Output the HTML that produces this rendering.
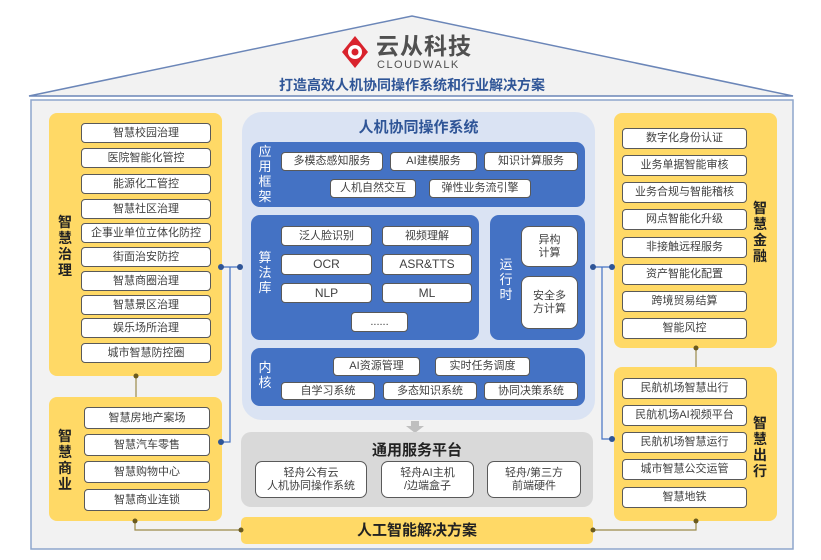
<!DOCTYPE html>
<html><head><meta charset="utf-8"><style>
*{margin:0;padding:0;box-sizing:border-box}
body{width:821px;height:560px;background:#fff;position:relative;overflow:hidden;font-family:"Liberation Sans","Noto Sans CJK SC",sans-serif}
.a{position:absolute}
.it{position:absolute;background:#fff;border:1.5px solid #595959;border-radius:4px;color:#404040;font-size:11px;display:flex;align-items:center;justify-content:center;text-align:center;line-height:13px;white-space:nowrap}
.y{position:absolute;background:#ffd966;border-radius:8px}
.bl{position:absolute;background:#4472c4;border-radius:9px}
.vl{position:absolute;font-weight:bold;font-size:14px;line-height:16px;width:16px;text-align:center;color:#222}
.vw{position:absolute;font-size:13px;line-height:15px;width:14px;text-align:center;color:#fff}
</style></head><body>
<svg class="a" style="left:0;top:0" width="821" height="560">
<polygon points="29,96 412,16 793,96" fill="#f2f2f2" stroke="#6b86b8" stroke-width="1.5"/>
<rect x="31" y="100" width="762" height="449" fill="#f2f2f2" stroke="#8ea6cc" stroke-width="1.5"/>
</svg>
<svg class="a" style="left:340px;top:34px" width="30" height="38"><path d="M15 2 L28 18 L15 34 L2 18 Z" fill="#d9232d"/><circle cx="15" cy="18" r="7" fill="#fff"/><circle cx="15" cy="18" r="3.5" fill="#d9232d"/></svg>
<div class="a" style="left:376px;top:34px;font-size:23px;line-height:24px;font-weight:bold;color:#505050;letter-spacing:1px">云从科技</div>
<div class="a" style="left:377px;top:59px;font-size:11px;line-height:12px;color:#505050;letter-spacing:1.5px">CLOUDWALK</div>
<div class="a" style="left:262px;top:75px;width:300px;text-align:center;font-size:14px;font-weight:bold;color:#2f5597">打造高效人机协同操作系统和行业解决方案</div>

<!-- left panels -->
<div class="y" style="left:49px;top:113px;width:173px;height:263px"></div>
<div class="vl" style="left:57px;top:214px">智<br>慧<br>治<br>理</div>
<div class="it" style="left:81px;top:123px;width:130px;height:20px">智慧校园治理</div>
<div class="it" style="left:81px;top:148px;width:130px;height:20px">医院智能化管控</div>
<div class="it" style="left:81px;top:174px;width:130px;height:20px">能源化工管控</div>
<div class="it" style="left:81px;top:199px;width:130px;height:20px">智慧社区治理</div>
<div class="it" style="left:81px;top:223px;width:130px;height:20px">企事业单位立体化防控</div>
<div class="it" style="left:81px;top:247px;width:130px;height:20px">街面治安防控</div>
<div class="it" style="left:81px;top:271px;width:130px;height:20px">智慧商圈治理</div>
<div class="it" style="left:81px;top:295px;width:130px;height:20px">智慧景区治理</div>
<div class="it" style="left:81px;top:318px;width:130px;height:20px">娱乐场所治理</div>
<div class="it" style="left:81px;top:343px;width:130px;height:20px">城市智慧防控圈</div>

<div class="y" style="left:49px;top:397px;width:173px;height:124px"></div>
<div class="vl" style="left:57px;top:428px">智<br>慧<br>商<br>业</div>
<div class="it" style="left:84px;top:407px;width:126px;height:22px">智慧房地产案场</div>
<div class="it" style="left:84px;top:434px;width:126px;height:22px">智慧汽车零售</div>
<div class="it" style="left:84px;top:461px;width:126px;height:22px">智慧购物中心</div>
<div class="it" style="left:84px;top:489px;width:126px;height:22px">智慧商业连锁</div>

<!-- right panels -->
<div class="y" style="left:614px;top:113px;width:163px;height:235px"></div>
<div class="vl" style="left:752px;top:200px">智<br>慧<br>金<br>融</div>
<div class="it" style="left:622px;top:128px;width:125px;height:21px">数字化身份认证</div>
<div class="it" style="left:622px;top:155px;width:125px;height:21px">业务单据智能审核</div>
<div class="it" style="left:622px;top:182px;width:125px;height:21px">业务合规与智能稽核</div>
<div class="it" style="left:622px;top:209px;width:125px;height:21px">网点智能化升级</div>
<div class="it" style="left:622px;top:237px;width:125px;height:21px">非接触远程服务</div>
<div class="it" style="left:622px;top:264px;width:125px;height:21px">资产智能化配置</div>
<div class="it" style="left:622px;top:291px;width:125px;height:21px">跨境贸易结算</div>
<div class="it" style="left:622px;top:318px;width:125px;height:21px">智能风控</div>

<div class="y" style="left:614px;top:367px;width:163px;height:154px"></div>
<div class="vl" style="left:752px;top:415px">智<br>慧<br>出<br>行</div>
<div class="it" style="left:622px;top:378px;width:125px;height:21px">民航机场智慧出行</div>
<div class="it" style="left:622px;top:405px;width:125px;height:21px">民航机场AI视频平台</div>
<div class="it" style="left:622px;top:432px;width:125px;height:21px">民航机场智慧运行</div>
<div class="it" style="left:622px;top:459px;width:125px;height:21px">城市智慧公交运管</div>
<div class="it" style="left:622px;top:487px;width:125px;height:21px">智慧地铁</div>

<!-- center -->
<div class="a" style="left:242px;top:112px;width:353px;height:308px;background:#dae3f3;border-radius:20px"></div>
<div class="a" style="left:242px;top:116px;width:353px;text-align:center;font-size:15px;font-weight:bold;color:#2f5597">人机协同操作系统</div>
<div class="bl" style="left:251px;top:142px;width:334px;height:65px"></div>
<div class="vw" style="left:258px;top:144px">应<br>用<br>框<br>架</div>
<div class="it" style="left:281px;top:152px;width:102px;height:19px">多模态感知服务</div>
<div class="it" style="left:390px;top:152px;width:87px;height:19px">AI建模服务</div>
<div class="it" style="left:484px;top:152px;width:94px;height:19px">知识计算服务</div>
<div class="it" style="left:330px;top:179px;width:86px;height:19px">人机自然交互</div>
<div class="it" style="left:429px;top:179px;width:102px;height:19px">弹性业务流引擎</div>

<div class="bl" style="left:251px;top:215px;width:228px;height:125px"></div>
<div class="vw" style="left:258px;top:250px">算<br>法<br>库</div>
<div class="it" style="left:281px;top:226px;width:91px;height:20px">泛人脸识别</div>
<div class="it" style="left:382px;top:226px;width:90px;height:20px">视频理解</div>
<div class="it" style="left:281px;top:254px;width:91px;height:21px;font-size:12px">OCR</div>
<div class="it" style="left:382px;top:254px;width:90px;height:21px;font-size:12px">ASR&amp;TTS</div>
<div class="it" style="left:281px;top:283px;width:91px;height:20px;font-size:12px">NLP</div>
<div class="it" style="left:382px;top:283px;width:90px;height:20px;font-size:12px">ML</div>
<div class="it" style="left:351px;top:312px;width:57px;height:20px">......</div>

<div class="bl" style="left:490px;top:215px;width:95px;height:125px"></div>
<div class="vw" style="left:499px;top:257px">运<br>行<br>时</div>
<div class="it" style="left:521px;top:226px;width:57px;height:41px;white-space:normal;border-radius:8px">异构<br>计算</div>
<div class="it" style="left:521px;top:276px;width:57px;height:53px;white-space:normal;border-radius:8px">安全多<br>方计算</div>

<div class="bl" style="left:251px;top:348px;width:334px;height:58px"></div>
<div class="vw" style="left:258px;top:360px">内<br>核</div>
<div class="it" style="left:333px;top:357px;width:87px;height:19px">AI资源管理</div>
<div class="it" style="left:435px;top:357px;width:95px;height:19px">实时任务调度</div>
<div class="it" style="left:281px;top:382px;width:94px;height:18px">自学习系统</div>
<div class="it" style="left:383px;top:382px;width:94px;height:18px">多态知识系统</div>
<div class="it" style="left:484px;top:382px;width:94px;height:18px">协同决策系统</div>

<svg class="a" style="left:405px;top:421px" width="20" height="12"><polygon points="6,0 14,0 14,5 19,5 10,12 1,5 6,5" fill="#bfbfbf"/></svg>
<div class="a" style="left:241px;top:432px;width:352px;height:75px;background:#d9d9d9;border-radius:10px"></div>
<div class="a" style="left:241px;top:439px;width:352px;text-align:center;font-size:15px;font-weight:bold;color:#222">通用服务平台</div>
<div class="it" style="left:255px;top:461px;width:112px;height:37px;border-radius:7px">轻舟公有云<br>人机协同操作系统</div>
<div class="it" style="left:381px;top:461px;width:93px;height:37px;border-radius:7px">轻舟AI主机<br>/边端盒子</div>
<div class="it" style="left:487px;top:461px;width:94px;height:37px;border-radius:7px">轻舟/第三方<br>前端硬件</div>
<div class="a" style="left:241px;top:517px;width:352px;height:27px;background:#ffd966;border-radius:5px;text-align:center;font-size:15px;font-weight:bold;line-height:27px;color:#222">人工智能解决方案</div>

<svg class="a" style="left:0;top:0" width="821" height="560">
<g stroke="#4472c4" stroke-width="1.2" fill="none">
<path d="M221 267 H240 M230 267 V442 H221"/>
<path d="M593 267 H612 M602 267 V439 H612"/>
</g>
<g fill="#2f5597"><circle cx="221" cy="267" r="3"/><circle cx="240" cy="267" r="3"/><circle cx="221" cy="442" r="3"/><circle cx="593" cy="267" r="3"/><circle cx="612" cy="267" r="3"/><circle cx="612" cy="439" r="3"/></g>
<g stroke="#9c8a4a" stroke-width="1.2" fill="none">
<path d="M136 376 V397"/><path d="M135 521 V530 H241"/>
<path d="M696 348 V367"/><path d="M696 521 V530 H593"/>
</g>
<g fill="#6b5a1e"><circle cx="136" cy="376" r="2.5"/><circle cx="135" cy="521" r="2.5"/><circle cx="241" cy="530" r="2.5"/><circle cx="696" cy="348" r="2.5"/><circle cx="696" cy="521" r="2.5"/><circle cx="593" cy="530" r="2.5"/></g>
</svg>
</body></html>
